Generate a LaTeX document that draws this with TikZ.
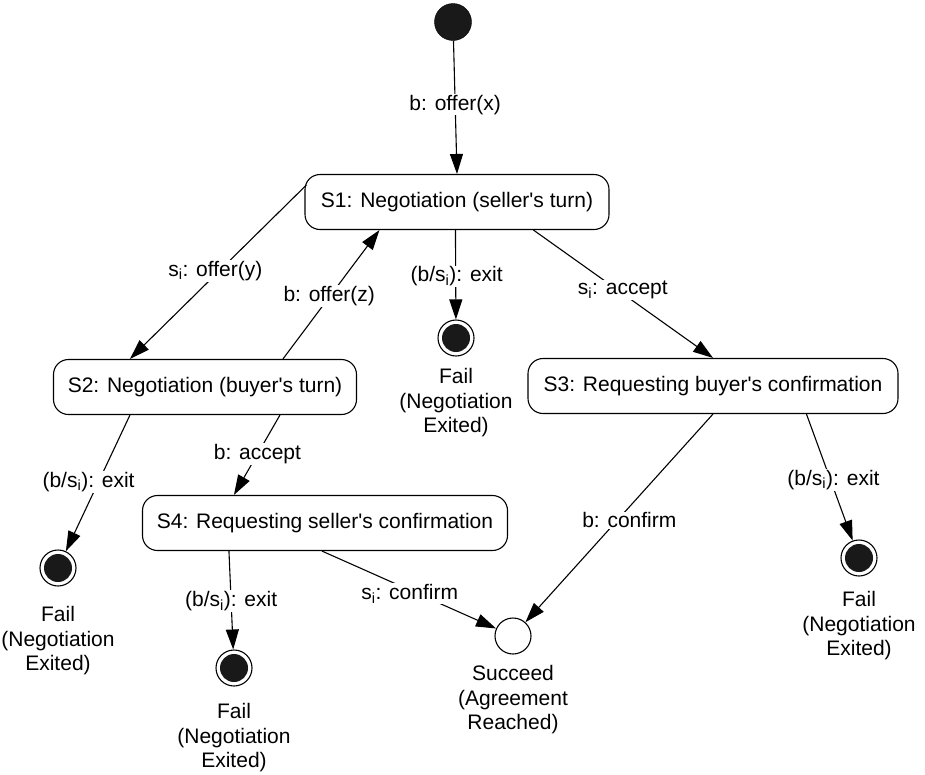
\documentclass[tikz,border=0pt]{standalone}
\usepackage{fontspec}
\setmainfont{Liberation Sans}[Ligatures=TeXOff]
\usetikzlibrary{arrows.meta,calc,shapes.misc}
\begin{document}
\begin{tikzpicture}[x=1pt,y=-1pt,
  every node/.style={font=\fontsize{21}{24.5}\selectfont},
  state/.style={draw, rounded corners=15pt, line width=1.1pt, minimum height=55pt, inner xsep=4pt, align=center},
  initst/.style={circle, fill=black!90, draw=black, minimum size=37pt, inner sep=0pt},
  finalst/.style={circle, draw=black, line width=1.1pt, minimum size=36pt, inner sep=0pt,
     path picture={\fill[black!90] (path picture bounding box.center) circle (14pt);}},
  succst/.style={circle, draw=black, line width=1.1pt, minimum size=36pt, inner sep=0pt},
  endtext/.style={align=center, inner sep=0pt},
  trans/.style={line width=1.1pt, -{Triangle[length=20pt,width=13pt]}},
  lbl/.style={fill=white, inner sep=1pt}
]
\useasboundingbox (0,0) rectangle (925,774);

% states
\node[initst] (init) at (453,22) {};
\node[state, minimum width=304pt] (S1) at (457,202) {S1: Negotiation (seller's turn)};
\node[state, minimum width=303pt] (S2) at (205,387) {S2: Negotiation (buyer's turn)};
\node[state, minimum width=370pt] (S3) at (713,386) {S3: Requesting buyer's confirmation};
\node[state, minimum width=365pt] (S4) at (325,523) {S4: Requesting seller's confirmation};

\node[finalst] (f1) at (456,338) {};
\node[finalst] (f2) at (58,568) {};
\node[finalst] (f4) at (234,668) {};
\node[finalst] (f3) at (859,558) {};
\node[succst] (succ) at (513,636) {};

\node[endtext] (t1) at (456,403) {Fail\\(Negotiation\\Exited)};
\node[endtext] (t2) at (58,641) {Fail\\(Negotiation\\Exited)};
\node[endtext] (t4) at (234,738) {Fail\\(Negotiation\\Exited)};
\node[endtext] (t3) at (859,626) {Fail\\(Negotiation\\Exited)};
\node[endtext] (ts) at (513,700) {Succeed\\(Agreement\\Reached)};

% transitions
\draw[trans] (init) -- node[lbl, pos=0.48] {b: offer(x)} (S1.north);
\draw[trans] ($(S1.north west)+(2,11)$) -- node[lbl, pos=0.494, xshift=-4pt] {s\textsubscript{i}: offer(y)} ($(S2.north west)+(77,0)$);
\draw[trans] ($(S2.north west)+(230,0)$) -- node[lbl, pos=0.49, xshift=-1pt] {b: offer(z)} ($(S1.south west)+(75,0)$);
\draw[trans] ($(S1.south west)+(151,0)$) -- node[lbl, pos=0.52, xshift=1pt] {(b/s\textsubscript{i}): exit} (f1);
\draw[trans] ($(S1.south west)+(229,0)$) -- node[lbl, pos=0.47, xshift=5pt] {s\textsubscript{i}: accept} (S3.north);
\draw[trans] ($(S2.south west)+(77,0)$) -- node[lbl, pos=0.49, xshift=-10pt] {(b/s\textsubscript{i}): exit} (f2);
\draw[trans] ($(S2.south west)+(227,0)$) -- node[lbl, pos=0.49] {b: accept} ($(S4.north west)+(92,0)$);
\draw[trans] ($(S4.south west)+(87,0)$) -- node[lbl, pos=0.51] {(b/s\textsubscript{i}): exit} (f4);
\draw[trans] ($(S4.south west)+(180,0)$) -- node[lbl, pos=0.55, xshift=-8pt] {s\textsubscript{i}: confirm} (succ);
\draw[trans] (S3.south) -- node[lbl, pos=0.51, xshift=12pt] {b: confirm} (succ);
\draw[trans] ($(S3.south west)+(279,0)$) -- node[lbl, pos=0.52, xshift=3pt] {(b/s\textsubscript{i}): exit} (f3);
\end{tikzpicture}
\end{document}
